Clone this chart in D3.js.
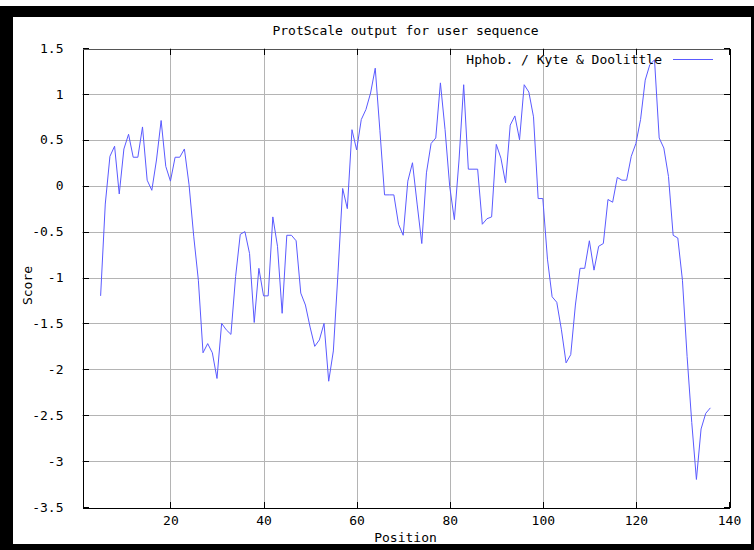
<!DOCTYPE html>
<html>
<head>
<meta charset="utf-8">
<script src="https://cdn.jsdelivr.net/npm/d3@7"></script>
<style>
  body { margin: 0; background: #fff; }
  svg text { font-family: "DejaVu Sans Mono", "Liberation Mono", monospace; font-size: 13px; fill: #000; }
</style>
</head>
<body>
<svg id="chart" width="754" height="550"></svg>
<script>
// Kyte & Doolittle hydropathy profile, one score per window centre
const firstPosition = 5;
const scores = [
  -1.2, -0.2, 0.32, 0.43, -0.09, 0.4, 0.56, 0.31, 0.31, 0.64,
  0.06, -0.05, 0.28, 0.71, 0.21, 0.05, 0.31, 0.31, 0.4, 0.01,
  -0.55, -1.03, -1.82, -1.72, -1.82, -2.1, -1.5, -1.57, -1.62, -0.99,
  -0.53, -0.5, -0.74, -1.49, -0.9, -1.2, -1.2, -0.34, -0.66, -1.39,
  -0.54, -0.54, -0.6, -1.17, -1.3, -1.54, -1.75, -1.68, -1.5, -2.13,
  -1.8, -0.95, -0.03, -0.25, 0.61, 0.39, 0.72, 0.83, 1.01, 1.28,
  0.6, -0.1, -0.1, -0.1, -0.42, -0.54, 0.05, 0.25, -0.2, -0.63,
  0.14, 0.46, 0.52, 1.12, 0.61, -0.01, -0.37, 0.28, 1.1, 0.18,
  0.18, 0.18, -0.42, -0.36, -0.34, 0.45, 0.3, 0.03, 0.66, 0.76,
  0.5, 1.1, 1.02, 0.75, -0.14, -0.14, -0.8, -1.21, -1.27, -1.57,
  -1.93, -1.84, -1.3, -0.9, -0.9, -0.6, -0.92, -0.66, -0.63, -0.15,
  -0.18, 0.09, 0.06, 0.06, 0.32, 0.46, 0.72, 1.15, 1.32, 1.37,
  0.52, 0.41, 0.1, -0.54, -0.57, -1.03, -1.86, -2.58, -3.2, -2.65,
  -2.48, -2.42
];
const xTicks = [20, 40, 60, 80, 100, 120, 140];
const yTicks = [1.5, 1, 0.5, 0, -0.5, -1, -1.5, -2, -2.5, -3, -3.5];
const yTickLabels = ["1.5", "1", "0.5", "0", "-0.5", "-1", "-1.5", "-2", "-2.5", "-3", "-3.5"];
const titleText = "ProtScale output for user sequence";
const seriesName = "Hphob. / Kyte & Doolittle";

const points = scores.map((s, i) => ({ pos: firstPosition + i, score: s }));

const svg = d3.select("#chart");
const W = 754, H = 550;
const plot = { left: 82, right: 729, top: 48, bottom: 507 };

// outer black frame with white canvas
svg.append("rect").attr("width", W).attr("height", H).attr("fill", "#000");
svg.append("rect").attr("x", 0).attr("y", 0).attr("width", W).attr("height", 6).attr("fill", "#fff");
svg.append("rect").attr("x", 13).attr("y", 17).attr("width", 751 - 13).attr("height", 544 - 17).attr("fill", "#fff");

const x = d3.scaleLinear().domain([1, 140]).range([plot.left, plot.right]);
const y = d3.scaleLinear().domain([-3.5, 1.5]).range([plot.bottom, plot.top]);

const g = svg.append("g").attr("shape-rendering", "crispEdges");

// grid
g.append("g").selectAll("line")
  .data(yTicks.filter(v => v > -3.5 && v < 1.5))
  .join("line")
  .attr("x1", plot.left).attr("x2", plot.right)
  .attr("y1", d => Math.round(y(d)) + 0.5).attr("y2", d => Math.round(y(d)) + 0.5)
  .attr("stroke", "#b4b4b4");
g.append("g").selectAll("line")
  .data(xTicks.filter(v => v < 140))
  .join("line")
  .attr("x1", d => Math.round(x(d)) + 0.5).attr("x2", d => Math.round(x(d)) + 0.5)
  .attr("y1", plot.top).attr("y2", plot.bottom)
  .attr("stroke", "#b4b4b4");

// axes with inward ticks
const axisL = g.append("g").attr("transform", `translate(${plot.left + 0.5},0)`)
  .call(d3.axisLeft(y).tickValues(yTicks).tickFormat((d, i) => yTickLabels[i]).tickSizeInner(-6).tickSizeOuter(0).tickPadding(19));
const axisR = g.append("g").attr("transform", `translate(${plot.right + 0.5},0)`)
  .call(d3.axisRight(y).tickValues(yTicks).tickFormat("").tickSizeInner(-6).tickSizeOuter(0));
const axisB = g.append("g").attr("transform", `translate(0,${plot.bottom + 0.5})`)
  .call(d3.axisBottom(x).tickValues(xTicks).tickSizeInner(-6).tickSizeOuter(0).tickPadding(8));
const axisT = g.append("g").attr("transform", `translate(0,${plot.top + 0.5})`)
  .call(d3.axisTop(x).tickValues(xTicks).tickFormat("").tickSizeInner(-6).tickSizeOuter(0));
[axisL, axisR, axisB, axisT].forEach(a => {
  a.selectAll("path.domain").attr("stroke", "#000");
  a.selectAll(".tick line").attr("stroke", "#000");
  a.selectAll("text").attr("font-family", null).attr("font-size", null).attr("fill", "#000");
});
axisT.select("path.domain").attr("stroke", "#555");

// hydropathy curve
svg.append("path")
  .datum(points)
  .attr("fill", "none")
  .attr("stroke", "#5a5aff")
  .attr("stroke-width", 1)
  .attr("d", d3.line().x(d => x(d.pos)).y(d => y(d.score)));

// legend
svg.append("text").attr("x", 662).attr("y", 64).attr("text-anchor", "end").text(seriesName);
svg.append("line").attr("x1", 673).attr("x2", 713).attr("y1", 59.5).attr("y2", 59.5)
  .attr("stroke", "#5a5aff").attr("stroke-width", 1);

// titles
svg.append("text").attr("x", (plot.left + plot.right) / 2).attr("y", 35).attr("text-anchor", "middle").text(titleText);
svg.append("text").attr("x", (plot.left + plot.right) / 2).attr("y", 542).attr("text-anchor", "middle").text("Position");
svg.append("text").attr("transform", `translate(32,${(plot.top + plot.bottom) / 2 + 8}) rotate(-90)`)
  .attr("text-anchor", "middle").text("Score");
</script>
</body>
</html>
